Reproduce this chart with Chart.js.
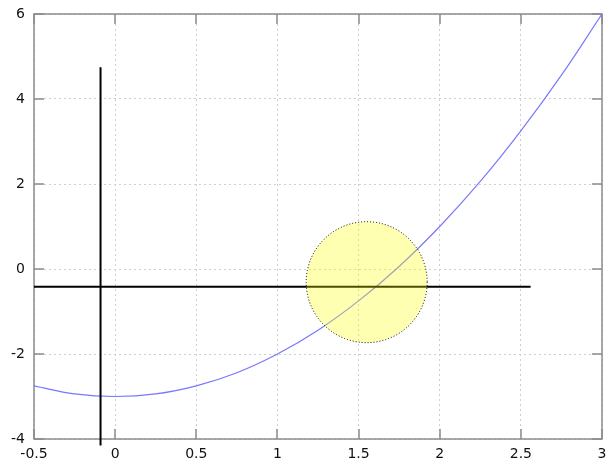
<!DOCTYPE html>
<html>
<head>
<meta charset="utf-8">
<script src="https://cdn.jsdelivr.net/npm/chart.js@4/dist/chart.umd.min.js"></script>
<style>
  body { margin: 0; background: #fff; }
  canvas { display: block; }
</style>
</head>
<body>
<canvas id="chart" width="606" height="465"></canvas>
<script>
// data
const curveX = [-0.5, -0.25, 0, 0.25, 0.5, 0.75, 1, 1.25, 1.5, 1.75, 2, 2.25, 2.5, 2.75, 3];
const curveY = [-2.75, -2.94, -3, -2.94, -2.75, -2.44, -2, -1.44, -0.75, 0.06, 1, 2.06, 3.25, 4.56, 6];
const vLineX = [-0.09, -0.09];
const vLineY = [-4.15, 4.75];
const hLineX = [-0.5, 2.56];
const hLineY = [-0.42, -0.42];
const circleX = [1.55];
const circleY = [-0.31];
const xTicks = [-0.5, 0, 0.5, 1, 1.5, 2, 2.5, 3];
const yTicks = [-4, -2, 0, 2, 4, 6];

function pts(xs, ys) {
    return xs.map((x, i) => ({x: x, y: ys[i]}));
}

// frame + inward tick marks (gnuplot look)
const framePlugin = {
    id: 'frame',
    beforeDatasetsDraw(chart) {
        const ctx = chart.ctx;
        const a = chart.chartArea;
        const sx = chart.scales.x, sy = chart.scales.y;
        ctx.save();
        ctx.strokeStyle = '#8c8c8c';
        ctx.lineWidth = 1.5;
        ctx.strokeRect(a.left, a.top, a.right - a.left, a.bottom - a.top);
        ctx.beginPath();
        xTicks.forEach(v => {
            const px = Math.round(sx.getPixelForValue(v));
            ctx.moveTo(px, a.bottom); ctx.lineTo(px, a.bottom - 10);
            ctx.moveTo(px, a.top); ctx.lineTo(px, a.top + 10);
        });
        yTicks.forEach(v => {
            const py = Math.round(sy.getPixelForValue(v));
            ctx.moveTo(a.left, py); ctx.lineTo(a.left + 10, py);
            ctx.moveTo(a.right, py); ctx.lineTo(a.right - 10, py);
        });
        ctx.stroke();
        ctx.restore();
    },
    // dotted outline for the circle marker
    beforeDatasetDraw(chart, args) {
        if (args.index === 0) {
            chart.ctx.save();
            chart.ctx.setLineDash([1, 2]);
        }
    },
    afterDatasetDraw(chart, args) {
        if (args.index === 0) chart.ctx.restore();
    }
};

var ctx = document.getElementById('chart');
var chart = new Chart(ctx, {
    type: 'scatter',
    data: {
        datasets: [{
            // circle
            data: pts(circleX, circleY),
            pointRadius: 60.5,
            pointHoverRadius: 60.5,
            backgroundColor: 'rgba(255,255,0,0.3)',
            borderColor: '#000',
            borderWidth: 1,
            order: 0
        }, {
            // vertical bar
            data: pts(vLineX, vLineY),
            showLine: true,
            borderColor: '#000',
            borderWidth: 2,
            pointRadius: 0,
            clip: false,
            order: 1
        }, {
            // horizontal bar
            data: pts(hLineX, hLineY),
            showLine: true,
            borderColor: '#000',
            borderWidth: 2,
            pointRadius: 0,
            order: 1
        }, {
            data: pts(curveX, curveY),
            showLine: true,
            borderColor: '#7878ff',
            borderWidth: 1.2,
            pointRadius: 0,
            tension: 0.4,
            order: 2
        }]
    },
    options: {
        responsive: false,
        animation: false,
        events: [],
        layout: { padding: { left: 0, right: 4, top: 14, bottom: 0 }, autoPadding: false },
        plugins: { legend: { display: false }, tooltip: { enabled: false } },
        scales: {
            x: {
                type: 'linear',
                min: -0.5,
                max: 3,
                afterBuildTicks: s => { s.ticks = xTicks.map(v => ({value: v})); },
                afterFit: s => { s.height = 26; s.paddingLeft = 0; s.paddingRight = 0; },
                border: { display: false, dash: [2, 3] },
                grid: { color: '#cfcfcf', drawTicks: false },
                ticks: {
                    padding: 7,
                    color: '#111',
                    maxRotation: 0,
                    font: { family: 'DejaVu Sans', size: 14 },
                    callback: v => String(v)
                }
            },
            y: {
                type: 'linear',
                min: -4,
                max: 6,
                afterBuildTicks: s => { s.ticks = yTicks.map(v => ({value: v})); },
                afterFit: s => { s.width = 34; s.paddingTop = 0; s.paddingBottom = 0; },
                border: { display: false, dash: [2, 3] },
                grid: { color: '#cfcfcf', drawTicks: false },
                ticks: {
                    padding: 9,
                    color: '#111',
                    font: { family: 'DejaVu Sans', size: 14 },
                    callback: v => String(v)
                }
            }
        }
    },
    plugins: [framePlugin]
});
</script>
</body>
</html>
